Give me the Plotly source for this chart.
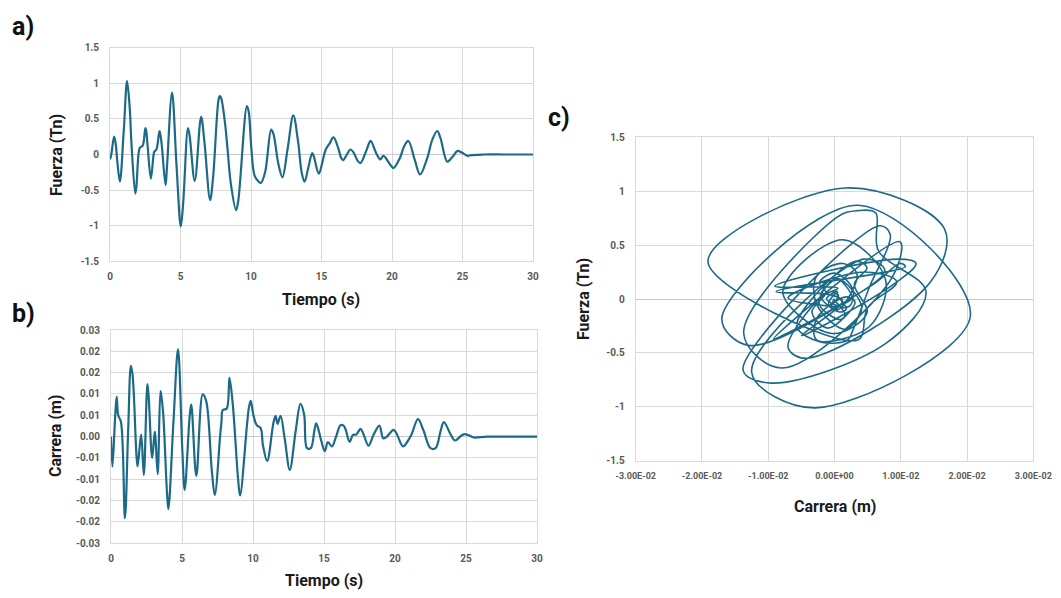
import plotly.graph_objects as go

# ---- data (time, force, stroke) ----
tiempo = [0.00, 0.10, 0.29, 0.40, 0.51, 0.70, 0.98, 1.21, 1.40, 1.52, 1.79, 1.87, 2.03, 2.13, 2.31,
          2.51, 2.57, 2.66, 2.90, 3.08, 3.14, 3.29, 3.48, 3.53, 3.67, 3.94, 4.04, 4.40, 4.72, 5.02,
          5.19, 5.53, 5.65, 6.01, 6.46, 6.70, 7.10, 7.31, 7.69, 7.78, 7.87, 8.15, 8.34, 8.57, 8.94,
          9.09, 9.71, 9.84, 10.02, 10.26, 10.54, 10.70, 11.00, 11.43, 11.59, 11.73, 11.94, 12.23,
          12.59, 13.00, 13.34, 13.60, 13.80, 14.07, 14.34, 14.46, 14.81, 15.05, 15.28, 15.56, 15.85,
          16.17, 16.40, 16.53, 16.80, 17.04, 17.27, 17.57, 17.77, 18.13, 18.43, 18.50, 18.90, 19.17,
          19.39, 19.90, 20.10, 20.56, 20.87, 21.16, 21.62, 21.99, 22.50, 22.86, 23.21, 23.44, 23.92,
          24.22, 24.66, 24.92, 25.40, 25.55, 26.50, 28.00, 30.00]

fuerza = [-0.07, 0.01, 0.25, 0.16, -0.08, -0.38, 0.35, 1.03, 0.65, 0.16, -0.55, -0.45, 0.02, 0.10, 0.12,
          0.37, 0.33, 0.14, -0.34, -0.02, 0.04, 0.07, 0.30, 0.33, 0.13, -0.43, -0.18, 0.87, -0.16, -1.01,
          -0.68, 0.37, 0.26, -0.37, 0.53, 0.17, -0.64, -0.32, 0.76, 0.82, 0.80, 0.45, 0.07, -0.41, -0.78,
          -0.66, 0.68, 0.60, 0.10, -0.30, -0.38, -0.40, -0.25, 0.35, 0.29, 0.14, -0.13, -0.32,
          0.07, 0.55, 0.18, -0.26, -0.38, -0.18, 0.02, -0.03, -0.27, -0.12, 0.06, 0.15, 0.24,
          0.10, -0.05, -0.08, 0.00, 0.07, 0.03, -0.09, -0.12, 0.03, 0.18, 0.19, 0.01, -0.07,
          -0.02, -0.15, -0.19, -0.05, 0.12, 0.19, -0.08, -0.28, -0.05, 0.21, 0.33, 0.23, -0.10,
          -0.05, 0.05, 0.03, -0.02, -0.01, 0.00, 0.00, 0.00]

carrera = [0.0000, -0.0070, 0.0045, 0.0094, 0.0050, 0.0035, -0.0191, 0.0016, 0.0166, 0.0145, -0.0042,
           -0.0070, -0.0020, 0.0005, -0.0090, 0.0095, 0.0123, 0.0090, -0.0050, 0.0012, -0.0007, -0.0088,
           0.0107, 0.0099, 0.0057, -0.0130, -0.0170, 0.0036, 0.0205, -0.0029, -0.0125, 0.0044, 0.0076,
           -0.0092, 0.0099, 0.0084, -0.0080, -0.0137, 0.0004, 0.0035, 0.0062, 0.0066, 0.0138, 0.0078,
           -0.0095, -0.0138, 0.0068, 0.0084, 0.0052, 0.0027, 0.0020, -0.0020, -0.0057, 0.0031, 0.0049,
           0.0030, 0.0049, -0.0004, -0.0078, 0.0012, 0.0077, 0.0052, -0.0027, -0.0027, 0.0018, 0.0031,
           -0.0010, -0.0034, -0.0013, -0.0023, 0.0000, 0.0027, 0.0025, 0.0016, -0.0012, 0.0004, 0.0005,
           0.0018, 0.0007, -0.0021, 0.0000, 0.0005, 0.0026, -0.0004, -0.0001, 0.0016, 0.0008, -0.0023,
           -0.0012, 0.0005, 0.0041, 0.0016, -0.0027, -0.0027, 0.0013, 0.0034, 0.0005, -0.0009, 0.0002,
           0.0006, 0.0000, -0.0002, 0.0000, 0.0000, 0.0000]

ticks_tiempo = [0, 5, 10, 15, 20, 25, 30]
etiquetas_tiempo = ["0", "5", "10", "15", "20", "25", "30"]
ticks_fuerza = [-1.5, -1, -0.5, 0, 0.5, 1, 1.5]
etiquetas_fuerza = ["-1.5", "-1", "-0.5", "0", "0.5", "1", "1.5"]
ticks_carrera_b = [-0.025, -0.02, -0.015, -0.01, -0.005, 0, 0.005, 0.01, 0.015, 0.02, 0.025]
etiquetas_carrera_b = ["-0.03", "-0.02", "-0.02", "-0.01", "-0.01", "0.00",
                       "0.01", "0.01", "0.02", "0.02", "0.03"]
ticks_carrera_c = [-0.03, -0.02, -0.01, 0, 0.01, 0.02, 0.03]
etiquetas_carrera_c = ["-3.00E-02", "-2.00E-02", "-1.00E-02", "0.00E+00",
                       "1.00E-02", "2.00E-02", "3.00E-02"]

# page body has an 8 px margin: the figure is sized to fit and positions are offset
OFF = 8
W, H = 1061 - 2 * OFF, 598 - 2 * OFF
LINE = "#1c6a88"
GRID = "#d9d9d9"
FONT = "Roboto, Liberation Sans, Arial, sans-serif"
TICKFONT = dict(family=FONT, size=10, color="#595959", weight="bold")

def px(x):
    return (x - OFF) / W

def py(y):
    return 1 - (y - OFF) / H

fig = go.Figure()
fig.add_trace(go.Scatter(x=tiempo, y=fuerza, mode="lines", xaxis="x", yaxis="y",
                         line=dict(color=LINE, width=2.2, shape="spline", smoothing=1.0),
                         showlegend=False))
fig.add_trace(go.Scatter(x=tiempo, y=carrera, mode="lines", xaxis="x2", yaxis="y2",
                         line=dict(color=LINE, width=2.2, shape="spline", smoothing=1.0),
                         showlegend=False))
fig.add_trace(go.Scatter(x=carrera, y=fuerza, mode="lines", xaxis="x3", yaxis="y3",
                         line=dict(color=LINE, width=1.6, shape="spline", smoothing=1.0),
                         showlegend=False))

def xax(domain, anchor, vals, text, rng, size=10):
    return dict(domain=domain, anchor=anchor, range=rng, tickvals=vals, ticktext=text,
                automargin=False,
                showgrid=True, gridcolor=GRID, gridwidth=1, zeroline=False,
                showline=True, linecolor=GRID, mirror=True,
                ticks="outside", ticklen=6, tickcolor="rgba(0,0,0,0)",
                tickfont=dict(TICKFONT, size=size), fixedrange=True)

def yax(domain, anchor, vals, text, rng):
    return dict(domain=domain, anchor=anchor, range=rng, tickvals=vals, ticktext=text,
                automargin=False,
                showgrid=True, gridcolor=GRID, gridwidth=1,
                zeroline=True, zerolinecolor="#c8c8c8", zerolinewidth=1,
                showline=True, linecolor=GRID, mirror=True,
                ticks="outside", ticklen=8, tickcolor="rgba(0,0,0,0)",
                tickfont=TICKFONT, fixedrange=True)

fig.update_layout(
    template="none",
    width=W, height=H, autosize=False,
    margin=dict(l=0, r=0, t=0, b=0, autoexpand=False),
    paper_bgcolor="white", plot_bgcolor="white",
    xaxis=xax([px(110), px(533)], "y", ticks_tiempo, etiquetas_tiempo, [0, 30]),
    yaxis=yax([py(261.3), py(47.7)], "x", ticks_fuerza, etiquetas_fuerza, [-1.5, 1.5]),
    xaxis2=xax([px(111), px(537)], "y2", ticks_tiempo, etiquetas_tiempo, [0, 30]),
    yaxis2=yax([py(543.3), py(330)], "x2", ticks_carrera_b, etiquetas_carrera_b, [-0.025, 0.025]),
    xaxis3=xax([px(635.7), px(1033.3)], "y3", ticks_carrera_c, etiquetas_carrera_c, [-0.03, 0.03], size=9),
    yaxis3=yax([py(460.7), py(137.3)], "x3", ticks_fuerza, etiquetas_fuerza, [-1.5, 1.5]),
)

TITLE = dict(family=FONT, size=16, color="#1a1a1a", weight="bold")
PANEL = dict(family=FONT, size=25, color="#111111", weight="bold")
annots = [
    ("Fuerza (Tn)", 56, 155, -90, TITLE),
    ("Tiempo (s)", 321, 299, 0, TITLE),
    ("Carrera (m)", 55, 436, -90, TITLE),
    ("Tiempo (s)", 324, 580, 0, TITLE),
    ("Fuerza (Tn)", 583, 299, -90, TITLE),
    ("Carrera (m)", 835, 506, 0, TITLE),
    ("a)", 23, 27, 0, PANEL),
    ("b)", 23, 313, 0, PANEL),
    ("c)", 559, 117, 0, PANEL),
]
for text, x, y, ang, f in annots:
    fig.add_annotation(text=text, x=px(x), y=py(y), xref="paper", yref="paper",
                       showarrow=False, textangle=ang, font=f,
                       xanchor="center", yanchor="middle")

fig.write_html("out.html")
